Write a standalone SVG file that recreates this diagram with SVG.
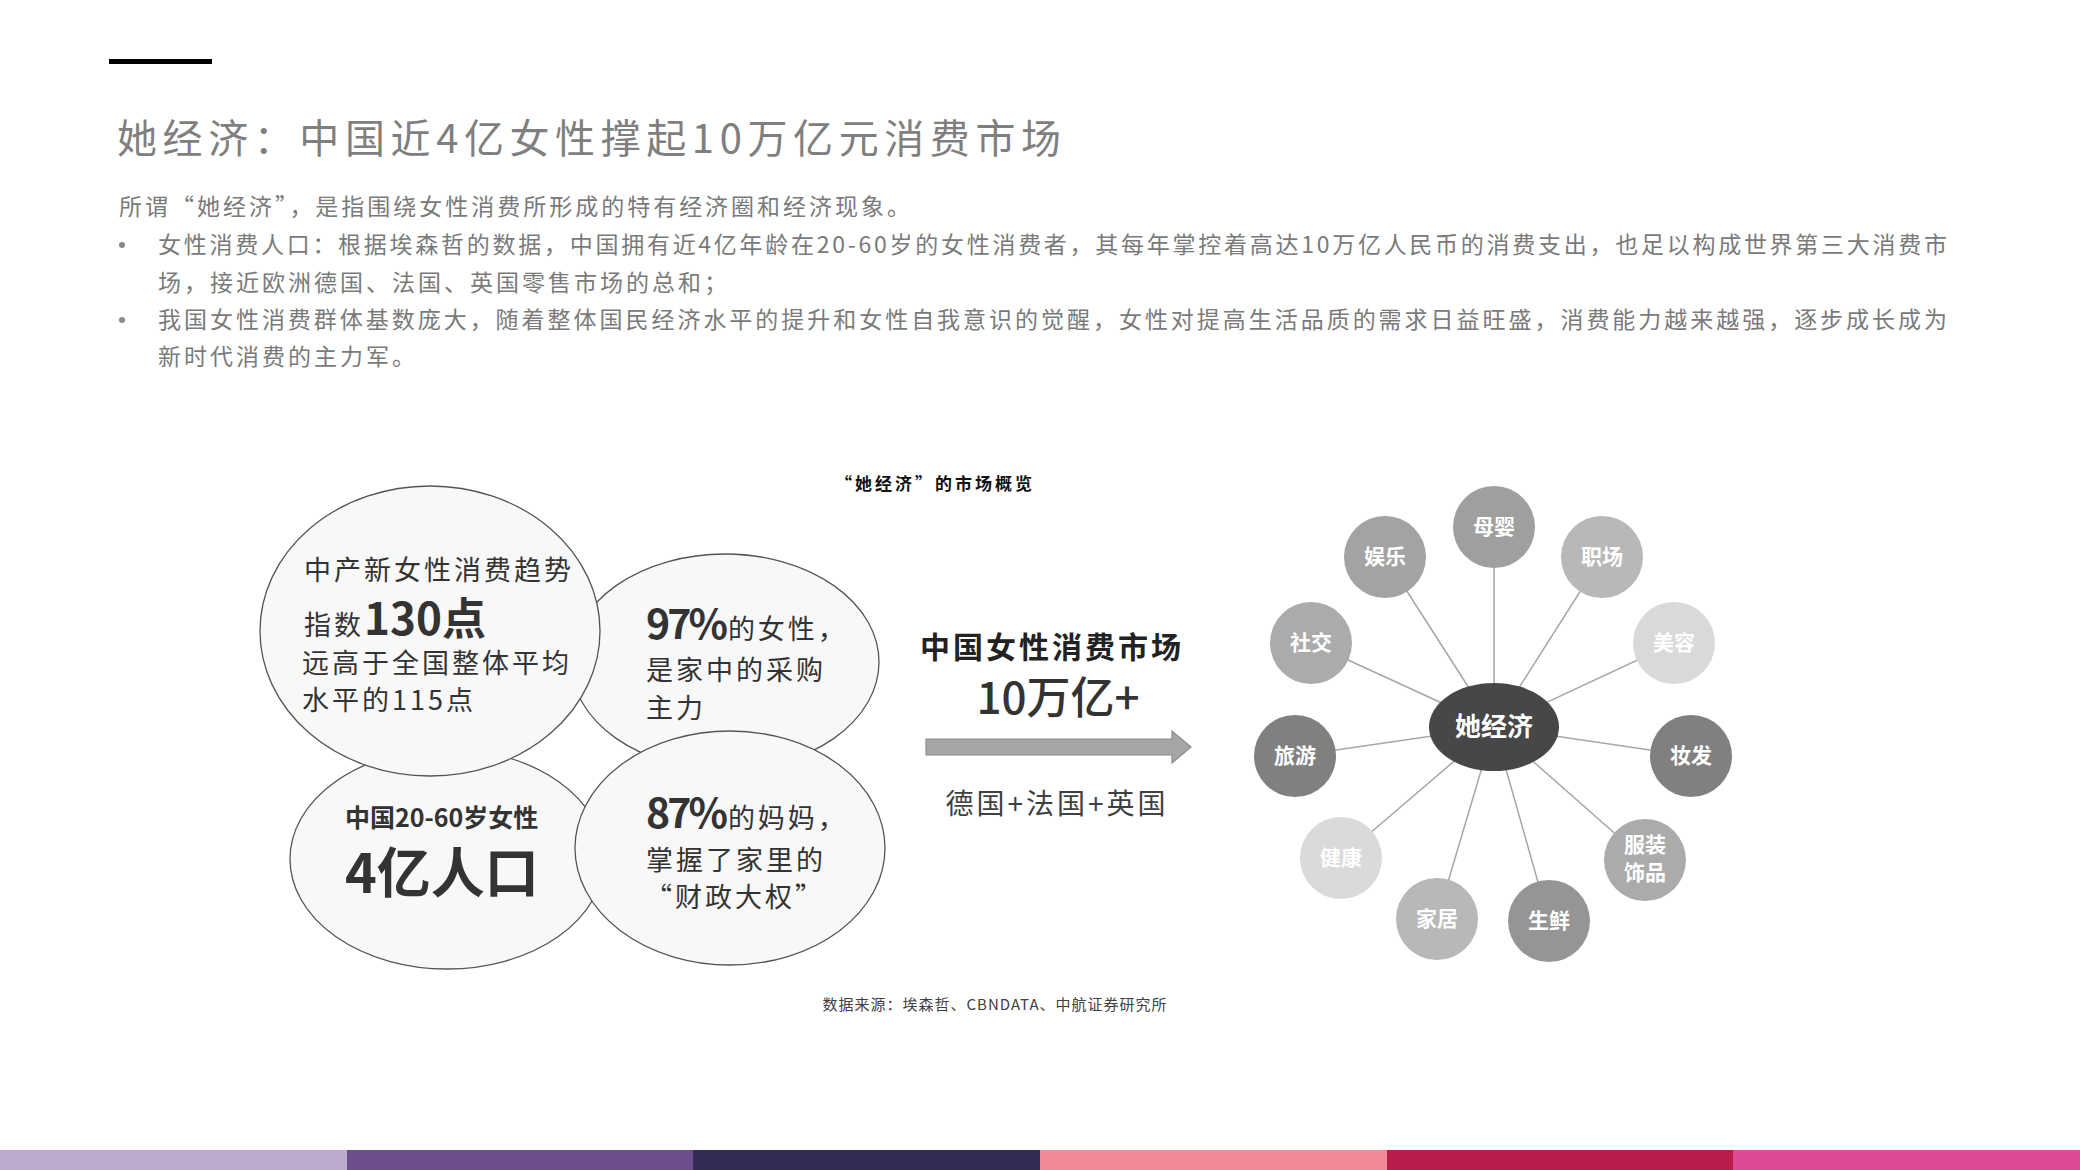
<svg xmlns="http://www.w3.org/2000/svg" width="2080" height="1170" viewBox="0 0 2080 1170">
<style>
text{font-family:"Noto Sans CJK SC","Liberation Sans",sans-serif}
.title{font-size:40px;fill:#7f7f7f}
.para{font-size:23px;fill:#7a7a7a;letter-spacing:3px}
.ct{font-size:27px;fill:#333;letter-spacing:3px}
.big{font-size:44px;fill:#333;font-weight:700}
.pct{font-size:41px;fill:#333;font-weight:700;letter-spacing:-3px}
.lab{font-size:21px;fill:#fff;font-weight:700;text-anchor:middle}
.bub{fill:#f8f8f8;stroke:#555;stroke-width:1.3}
.spoke{stroke:#a6a6a6;stroke-width:1.5}
</style>
<rect x="109" y="59" width="103" height="5" fill="#000"/>
<text class="title" x="117" y="153" textLength="944" lengthAdjust="spacing">她经济：中国近4亿女性撑起10万亿元消费市场</text>
<g id="intro">
<text class="para" x="119" y="215" textLength="794" lengthAdjust="spacing">所谓“她经济”，是指围绕女性消费所形成的特有经济圈和经济现象。</text>
<circle cx="122" cy="245" r="3" fill="#8a8a8a"/>
<text class="para" x="158" y="253" textLength="1792" lengthAdjust="spacing">女性消费人口：根据埃森哲的数据，中国拥有近4亿年龄在20-60岁的女性消费者，其每年掌控着高达10万亿人民币的消费支出，也足以构成世界第三大消费市</text>
<text class="para" x="158" y="291">场，接近欧洲德国、法国、英国零售市场的总和；</text>
<circle cx="122" cy="320" r="3" fill="#8a8a8a"/>
<text class="para" x="158" y="328" textLength="1792" lengthAdjust="spacing">我国女性消费群体基数庞大，随着整体国民经济水平的提升和女性自我意识的觉醒，女性对提高生活品质的需求日益旺盛，消费能力越来越强，逐步成长成为</text>
<text class="para" x="158" y="365">新时代消费的主力军。</text>
</g>
<text x="935" y="490" font-size="17" font-weight="700" fill="#111" text-anchor="middle" letter-spacing="3">“她经济”的市场概览</text>
<g id="bubble2"><ellipse class="bub" cx="725" cy="662" rx="154" ry="108"/>
<text class="ct" x="646" y="639"><tspan class="pct">97%</tspan><tspan dx="3">的女性，</tspan></text>
<text class="ct" x="646" y="680">是家中的采购</text>
<text class="ct" x="646" y="718">主力</text></g>
<g id="bubble3"><ellipse class="bub" cx="447" cy="859" rx="157" ry="110"/>
<text x="345" y="827" font-size="25" font-weight="700" fill="#333">中国20-60岁女性</text>
<text x="345" y="893" font-size="54" font-weight="700" fill="#333">4亿人口</text></g>
<g id="bubble1"><ellipse class="bub" cx="430" cy="631" rx="170" ry="145"/>
<text class="ct" x="304" y="580">中产新女性消费趋势</text>
<text class="ct" x="304" y="635">指数<tspan class="big" style="letter-spacing:0">130点</tspan></text>
<text class="ct" x="302" y="673">远高于全国整体平均</text>
<text class="ct" x="302" y="710">水平的115点</text></g>
<g id="bubble4"><ellipse class="bub" cx="730" cy="848" rx="155" ry="117"/>
<text class="ct" x="646" y="828"><tspan class="pct">87%</tspan><tspan dx="3">的妈妈，</tspan></text>
<text class="ct" x="646" y="870">掌握了家里的</text>
<text class="ct" x="735" y="907" text-anchor="middle">“财政大权”</text></g>
<g id="market">
<text x="1052" y="658" font-size="30" font-weight="700" fill="#222" text-anchor="middle" letter-spacing="3">中国女性消费市场</text>
<text x="1058" y="714" font-size="44" font-weight="500" fill="#333" text-anchor="middle">10万亿+</text>
<path d="M926,739 H1172 V731 L1191,747 L1172,763 V755 H926 Z" fill="#a6a6a6" stroke="#8c8c8c" stroke-width="1.2"/>
<text x="1057" y="814" font-size="28" fill="#404040" text-anchor="middle" letter-spacing="3">德国+法国+英国</text>
</g>
<text x="995" y="1010" font-size="15" fill="#404040" text-anchor="middle" letter-spacing="1">数据来源：埃森哲、CBNDATA、中航证券研究所</text>
<g id="connectors">
<line class="spoke" x1="1494" y1="727" x2="1494" y2="527"/>
<line class="spoke" x1="1494" y1="727" x2="1602" y2="557"/>
<line class="spoke" x1="1494" y1="727" x2="1674" y2="643"/>
<line class="spoke" x1="1494" y1="727" x2="1691" y2="756"/>
<line class="spoke" x1="1494" y1="727" x2="1645" y2="860"/>
<line class="spoke" x1="1494" y1="727" x2="1549" y2="921"/>
<line class="spoke" x1="1494" y1="727" x2="1437" y2="919"/>
<line class="spoke" x1="1494" y1="727" x2="1341" y2="858"/>
<line class="spoke" x1="1494" y1="727" x2="1295" y2="756"/>
<line class="spoke" x1="1494" y1="727" x2="1311" y2="643"/>
<line class="spoke" x1="1494" y1="727" x2="1385" y2="557"/>
</g>
<g id="hub"><ellipse cx="1494" cy="727" rx="65" ry="44" fill="#474747"/>
<text x="1494" y="736" font-size="26" font-weight="700" fill="#fff" text-anchor="middle">她经济</text></g>
<g id="n-muying"><circle cx="1494" cy="527" r="41" fill="#9f9f9f"/><text class="lab" x="1494" y="534">母婴</text></g>
<g id="n-zhichang"><circle cx="1602" cy="557" r="41" fill="#b8b8b8"/><text class="lab" x="1602" y="564">职场</text></g>
<g id="n-meirong"><circle cx="1674" cy="643" r="41" fill="#d9d9d9"/><text class="lab" x="1674" y="650">美容</text></g>
<g id="n-zhuangfa"><circle cx="1691" cy="756" r="41" fill="#808080"/><text class="lab" x="1691" y="763">妆发</text></g>
<g id="n-fuzhuang"><circle cx="1645" cy="860" r="41" fill="#ababab"/><text class="lab" x="1645" y="852">服装</text><text class="lab" x="1645" y="880">饰品</text></g>
<g id="n-shengxian"><circle cx="1549" cy="921" r="41" fill="#959595"/><text class="lab" x="1549" y="928">生鲜</text></g>
<g id="n-jiaju"><circle cx="1437" cy="919" r="41" fill="#b8b8b8"/><text class="lab" x="1437" y="926">家居</text></g>
<g id="n-jiankang"><circle cx="1341" cy="858" r="41" fill="#dadada"/><text class="lab" x="1341" y="865">健康</text></g>
<g id="n-lvyou"><circle cx="1295" cy="756" r="41" fill="#808080"/><text class="lab" x="1295" y="763">旅游</text></g>
<g id="n-shejiao"><circle cx="1311" cy="643" r="41" fill="#ababab"/><text class="lab" x="1311" y="650">社交</text></g>
<g id="n-yule"><circle cx="1385" cy="557" r="41" fill="#a3a3a3"/><text class="lab" x="1385" y="564">娱乐</text></g>
<rect x="0" y="1150" width="347" height="20" fill="#bdaacf"/>
<rect x="347" y="1150" width="347" height="20" fill="#6c4e8a"/>
<rect x="693" y="1150" width="347" height="20" fill="#332c55"/>
<rect x="1040" y="1150" width="347" height="20" fill="#f38898"/>
<rect x="1387" y="1150" width="347" height="20" fill="#b91c4b"/>
<rect x="1733" y="1150" width="347" height="20" fill="#dd4a95"/>
</svg>
